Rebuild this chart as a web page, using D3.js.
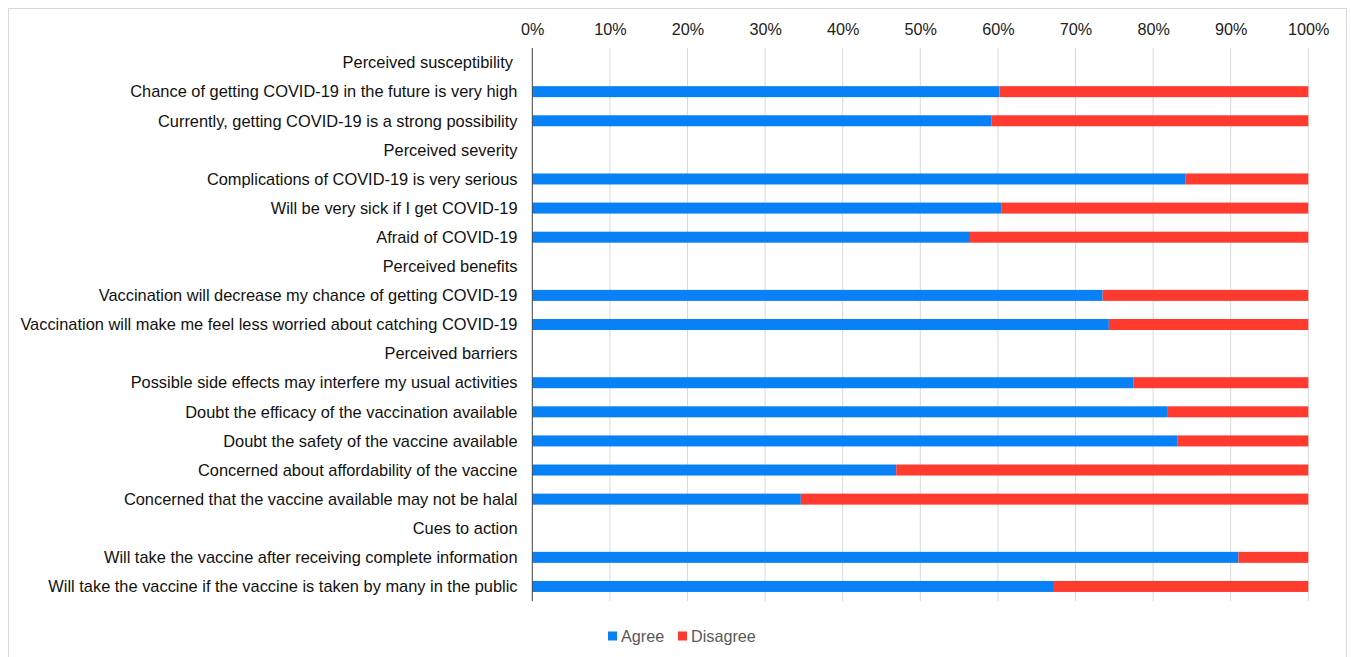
<!DOCTYPE html>
<html>
<head>
<meta charset="utf-8">
<script src="https://cdn.jsdelivr.net/npm/d3@7"></script>
<style>
  body { margin: 0; background: #fff; }
  svg { display: block; font-family: "Liberation Sans", Arial, sans-serif; }
</style>
</head>
<body>
<div id="chart"></div>
<script>
// Row labels, top to bottom (headers have no values)
var labels = [
  "Perceived susceptibility ",
  "Chance of getting COVID-19 in the future is very high",
  "Currently, getting COVID-19 is a strong possibility",
  "Perceived severity",
  "Complications of COVID-19 is very serious",
  "Will be very sick if I get COVID-19",
  "Afraid of COVID-19",
  "Perceived benefits",
  "Vaccination will decrease my chance of getting COVID-19",
  "Vaccination will make me feel less worried about catching COVID-19",
  "Perceived barriers",
  "Possible side effects may interfere my usual activities",
  "Doubt the efficacy of the vaccination available",
  "Doubt the safety of the vaccine available",
  "Concerned about affordability of the vaccine",
  "Concerned that the vaccine available may not be halal",
  "Cues to action",
  "Will take the vaccine after receiving complete information",
  "Will take the vaccine if the vaccine is taken by many in the public"
];

// percent agree / disagree (null for header rows)
var agree    = [null, 60.2, 59.2, null, 84.2, 60.5, 56.4, null, 73.5, 74.3, null, 77.5, 81.8, 83.1, 46.9, 34.6, null, 91.0, 67.1];
var disagree = [null, 39.8, 40.8, null, 15.8, 39.5, 43.6, null, 26.5, 25.7, null, 22.5, 18.2, 16.9, 53.1, 65.4, null,  9.0, 32.9];

var ticks = [0, 10, 20, 30, 40, 50, 60, 70, 80, 90, 100];
var seriesNames = ["Agree", "Disagree"];
var colors = ["#0881F6", "#FF3B30"];

var width = 1351, height = 657;

var svg = d3.select("#chart").append("svg")
  .attr("width", width)
  .attr("height", height);

// outer frame
svg.append("rect")
  .attr("x", 8.5).attr("y", 8.5)
  .attr("width", 1338).attr("height", 660)
  .attr("fill", "none")
  .attr("stroke", "#d9d9d9");

var x = d3.scaleLinear().domain([0, 100]).range([532.3, 1308.3]);
var y = d3.scaleBand()
  .domain(d3.range(labels.length))
  .range([48, 601])
  .paddingInner(0.62)
  .paddingOuter(0.31);

// gridlines
svg.append("g")
  .selectAll("line")
  .data(ticks.slice(1))
  .enter().append("line")
  .attr("x1", function(d) { return x(d); })
  .attr("x2", function(d) { return x(d); })
  .attr("y1", 48).attr("y2", 601)
  .attr("stroke", "#d9d9d9")
  .attr("stroke-width", 1);

// top axis
var xAxis = d3.axisTop(x)
  .tickValues(ticks)
  .tickFormat(function(d) { return d + "%"; })
  .tickSize(0)
  .tickPadding(0);

var ax = svg.append("g")
  .attr("transform", "translate(0,35)")
  .call(xAxis);
ax.select(".domain").remove();
ax.selectAll("text")
  .attr("font-size", 16.2)
  .attr("font-family", "Liberation Sans, Arial, sans-serif")
  .attr("fill", "#222");

// stacked bars
var rows = labels.map(function(l, i) {
  return { i: i, a: agree[i], d: disagree[i] };
}).filter(function(r) { return r.a !== null; });

var barH = 11;
function barY(i) { return y(i) + y.bandwidth() / 2 - barH / 2; }

svg.append("g").selectAll("rect")
  .data(rows)
  .enter().append("rect")
  .attr("x", x(0))
  .attr("y", function(r) { return barY(r.i); })
  .attr("width", function(r) { return x(r.a) - x(0); })
  .attr("height", barH)
  .attr("fill", colors[0]);

svg.append("g").selectAll("rect")
  .data(rows)
  .enter().append("rect")
  .attr("x", function(r) { return x(r.a); })
  .attr("y", function(r) { return barY(r.i); })
  .attr("width", function(r) { return x(r.a + r.d) - x(r.a); })
  .attr("height", barH)
  .attr("fill", colors[1]);

// category axis line at 0%
svg.append("line")
  .attr("x1", x(0)).attr("x2", x(0))
  .attr("y1", 48).attr("y2", 601)
  .attr("stroke", "#404040")
  .attr("stroke-width", 1);

// row labels
svg.append("g").selectAll("text")
  .data(labels)
  .enter().append("text")
  .attr("x", 517.5)
  .attr("y", function(d, i) { return y(i) + y.bandwidth() / 2; })
  .attr("dy", "0.35em")
  .attr("text-anchor", "end")
  .attr("font-size", 16.4)
  .attr("fill", "#111")
  .style("white-space", "pre")
  .text(function(d) { return d; });

// legend
var legend = svg.append("g").attr("transform", "translate(608,636)");
var lx = [0, 70];
seriesNames.forEach(function(name, k) {
  var g = legend.append("g").attr("transform", "translate(" + lx[k] + ",0)");
  g.append("rect")
    .attr("x", 0).attr("y", -4.5)
    .attr("width", 9).attr("height", 9)
    .attr("fill", colors[k]);
  g.append("text")
    .attr("x", 13)
    .attr("dy", "0.35em")
    .attr("font-size", 16.2)
    .attr("fill", "#595959")
    .text(name);
});
</script>
</body>
</html>
